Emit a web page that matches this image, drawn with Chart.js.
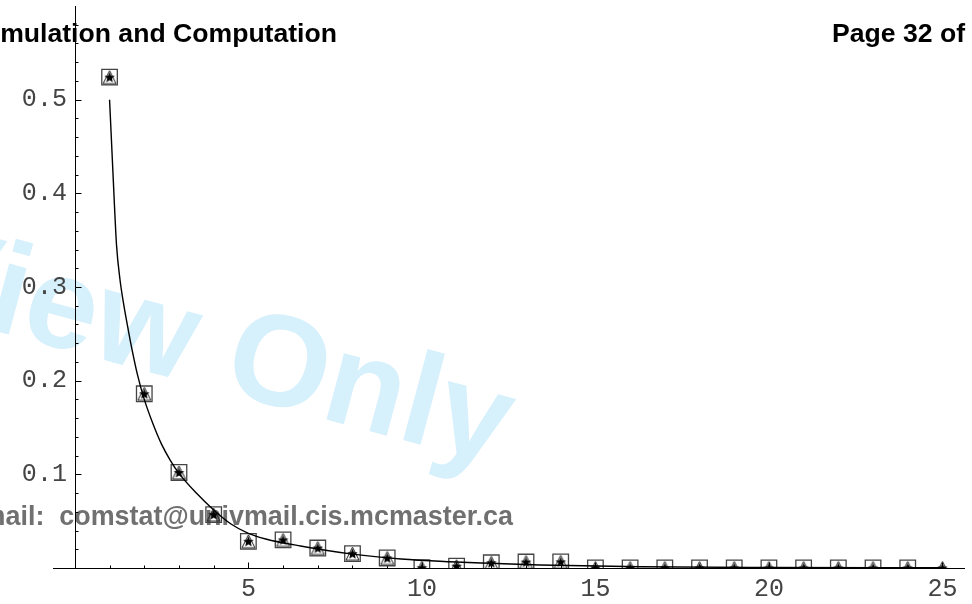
<!DOCTYPE html>
<html>
<head>
<meta charset="utf-8">
<script src="https://cdn.jsdelivr.net/npm/chart.js@4.4.1/dist/chart.umd.min.js"></script>
<style>
  html, body { margin: 0; padding: 0; background: #fff; }
  #wrap { width: 972px; height: 604px; }
</style>
</head>
<body>
<div id="wrap"><canvas id="plot"></canvas></div>
<script>
// --------------------
// Data
// --------------------
const pointX = [1, 2, 3, 4, 5, 6, 7, 8, 9, 10, 11, 12, 13, 14, 15, 16, 17, 18, 19, 20, 21, 22, 23, 24, 25];
const squareY = [0.524, 0.186, 0.102, 0.057, 0.0285, 0.030, 0.0213, 0.0153, 0.0107, 0.0003, 0.002, 0.0056, 0.0064, 0.0066,
                 0, 0, 0, 0, 0, 0, 0, 0, 0, 0];
const triangleY = [0.524, 0.186, 0.102, 0.057, 0.0285, 0.030, 0.0213, 0.0153, 0.0107, 0.0003, 0.002, 0.0056, 0.0064, 0.0066,
                   0, 0, 0, 0, 0, 0, 0, 0, 0, 0, 0];
const starY = [0.524, 0.186, 0.102, 0.057, 0.0285, 0.030, 0.0213, 0.0153, 0.0107, 0.0003, 0.002, 0.0056, 0.0064, 0.0066,
               0, 0, 0, 0, 0, 0, 0, 0, 0, 0, 0];

const curveX = [1, 1.1, 1.2, 1.3, 1.4, 1.5, 1.6, 1.8, 2.0, 2.25, 2.5, 2.75, 3.0, 3.5, 4.0, 4.5, 5.0, 5.5, 6.5, 8.0, 9.4, 10.8, 12, 13.4, 16.3, 20, 25];
const curveY = [0.500, 0.420, 0.345, 0.308, 0.283, 0.262, 0.242, 0.207, 0.180, 0.154, 0.132, 0.115, 0.101, 0.080, 0.062, 0.047, 0.037, 0.031, 0.0235,
                0.0148, 0.0096, 0.0067, 0.005, 0.0032, 0.0013, 0.0005, 0.0002];

const xTicks = [5, 10, 15, 20, 25];
const yTicks = [0.1, 0.2, 0.3, 0.4, 0.5];

const headerLeft = 'Simulation and Computation';
const headerRight = 'Page 32 of';
const emailText = 'E-mail:  comstat@univmail.cis.mcmaster.ca';
const stampText = 'View Only';

// --------------------
// Helpers
// --------------------
function pairs(xs, ys) {
    return ys.map((y, i) => ({ x: xs[i], y: y }));
}

// small filled star used as a point style
function makeStar(r) {
    const c = document.createElement('canvas');
    c.width = c.height = Math.ceil(2 * r + 2);
    const g = c.getContext('2d');
    const cx = c.width / 2, cy = c.height / 2 + 0.5;
    g.beginPath();
    for (let i = 0; i < 10; i++) {
        const rad = i % 2 === 0 ? r : r * 0.45;
        const a = -Math.PI / 2 + i * Math.PI / 5;
        g.lineTo(cx + rad * Math.cos(a), cy + rad * Math.sin(a));
    }
    g.closePath();
    g.fillStyle = '#000';
    g.fill();
    return c;
}

// outlined triangle as tall as it is wide
function makeTriangle(w) {
    const c = document.createElement('canvas');
    c.width = c.height = w + 2;
    const g = c.getContext('2d');
    g.beginPath();
    g.moveTo(c.width / 2, 1);
    g.lineTo(c.width - 1, c.height - 1);
    g.lineTo(1, c.height - 1);
    g.closePath();
    g.strokeStyle = '#1a1a1a';
    g.lineWidth = 1;
    g.stroke();
    return c;
}

// --------------------
// Plugins: background texts and Mathematica-style axes
// --------------------
const pageText = {
    id: 'pageText',
    beforeDraw(chart) {
        const ctx = chart.ctx;
        ctx.save();
        // watermark
        ctx.translate(220, 391);
        ctx.rotate(15 * Math.PI / 180);
        ctx.font = 'bold 130px "Liberation Sans", Arial, sans-serif';
        ctx.fillStyle = '#d6f0fc';
        ctx.textBaseline = 'alphabetic';
        const parts = stampText.split(' ');
        ctx.textAlign = 'right';
        ctx.fillText(parts[0] + ' ', 0, 0);
        ctx.textAlign = 'left';
        ctx.fillText(parts[1], 0, 0);
        ctx.restore();

        ctx.save();
        ctx.font = 'bold 26.6px "Liberation Sans", Arial, sans-serif';
        ctx.textBaseline = 'alphabetic';
        ctx.textAlign = 'right';
        ctx.fillStyle = '#000';
        ctx.fillText(headerLeft, 337, 42);
        ctx.fillText(headerRight, 965, 42);
        ctx.font = 'bold 26.9px "Liberation Sans", Arial, sans-serif';
        ctx.fillStyle = '#707070';
        ctx.fillText(emailText, 513, 525);
        ctx.restore();
    }
};

const axesLines = {
    id: 'axesLines',
    beforeDatasetsDraw(chart) {
        const ctx = chart.ctx, xs = chart.scales.x, ys = chart.scales.y, area = chart.chartArea;
        const x0 = Math.round(xs.getPixelForValue(0)) + 0.5;
        const y0 = Math.round(ys.getPixelForValue(0)) + 0.5;
        ctx.save();
        ctx.strokeStyle = '#000';
        ctx.lineWidth = 1;
        ctx.beginPath();
        ctx.moveTo(area.left, y0); ctx.lineTo(area.right, y0);
        ctx.moveTo(x0, area.top); ctx.lineTo(x0, y0);
        // x ticks every 1, long at labels
        for (let v = 1; v <= 25; v++) {
            const px = Math.round(xs.getPixelForValue(v)) + 0.5;
            const len = xTicks.includes(v) ? 6 : 3;
            ctx.moveTo(px, y0); ctx.lineTo(px, y0 - len);
        }
        // y ticks every 0.02, long at labels
        for (let k = 1; k <= 29; k++) {
            const py = Math.round(ys.getPixelForValue(k * 0.02)) + 0.5;
            const len = k % 5 === 0 ? 6 : 3;
            ctx.moveTo(x0, py); ctx.lineTo(x0 + len, py);
        }
        ctx.stroke();
        ctx.restore();
    }
};

// --------------------
// Chart
// --------------------
const tickFont = { family: '"Liberation Mono", "Courier New", monospace', size: 25 };
const noPadding = (s) => { s.paddingTop = s.paddingBottom = s.paddingLeft = s.paddingRight = 0; };
const markerClip = { left: false, top: false, right: false, bottom: 0 };

new Chart(document.getElementById('plot').getContext('2d'), {
    type: 'scatter',
    data: {
        datasets: [
            {
                label: 'curve',
                type: 'line',
                data: pairs(curveX, curveY),
                borderColor: '#000',
                borderWidth: 1.4,
                pointRadius: 0,
                fill: false,
                cubicInterpolationMode: 'monotone'
            },
            {
                label: 'squares',
                data: pairs(pointX, squareY),
                pointStyle: 'rect',
                pointRadius: 11,
                borderColor: '#444',
                borderWidth: 1.3,
                backgroundColor: 'rgba(0,0,0,0)',
                clip: markerClip
            },
            {
                label: 'triangles',
                data: pairs(pointX, triangleY),
                pointStyle: makeTriangle(13),
                pointRadius: 7,
                clip: markerClip
            },
            {
                label: 'stars',
                data: pairs(pointX, starY),
                pointStyle: makeStar(5.5),
                pointRadius: 6,
                clip: markerClip
            }
        ]
    },
    options: {
        responsive: true,
        maintainAspectRatio: false,
        animation: false,
        events: [],
        layout: { autoPadding: false, padding: { left: 53, right: 7, top: 6, bottom: 36 } },
        plugins: { legend: { display: false }, tooltip: { enabled: false } },
        scales: {
            x: {
                type: 'linear',
                position: { y: 0 },
                min: -0.63,
                max: 25.65,
                grid: { display: false, drawTicks: false },
                border: { display: false },
                afterBuildTicks: (s) => { s.ticks = xTicks.map(v => ({ value: v })); },
                afterFit: noPadding,
                ticks: { font: tickFont, color: '#444', padding: 6, maxRotation: 0, autoSkip: false }
            },
            y: {
                type: 'linear',
                // labels sit a little left of the y axis drawn at x = 0
                position: { x: -0.23 },
                min: 0,
                max: 0.6,
                grid: { display: false, drawTicks: false },
                border: { display: false },
                afterBuildTicks: (s) => { s.ticks = yTicks.map(v => ({ value: v })); },
                afterFit: noPadding,
                ticks: { font: tickFont, color: '#444', padding: 0, autoSkip: false,
                         callback: (v) => v.toFixed(1) }
            }
        }
    },
    plugins: [pageText, axesLines]
});
</script>
</body>
</html>
